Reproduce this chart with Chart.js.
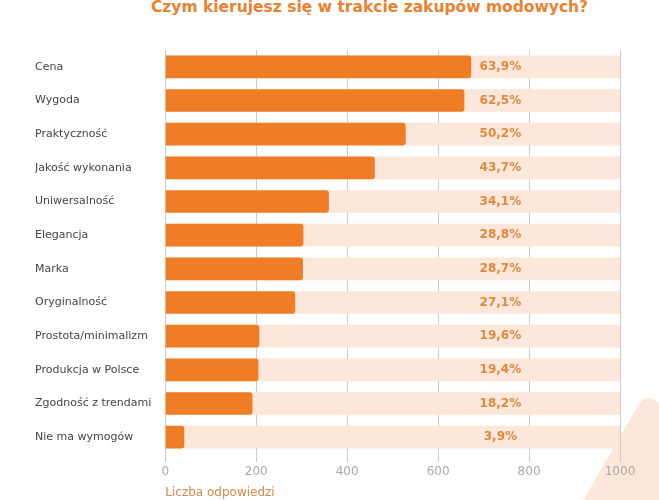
<!DOCTYPE html>
<html><head><meta charset="utf-8">
<script src="https://cdn.jsdelivr.net/npm/chart.js"></script>
<style>
html,body{margin:0;padding:0;background:#fff;overflow:hidden}
#wrap{position:relative;width:659px;height:500px}
#title{position:absolute;top:-2px;left:0;width:659px;text-align:center;font:bold 15.5px "DejaVu Sans";color:#e9822f;margin-left:40px}
#deco{position:absolute;left:600px;top:420px;width:140px;height:140px;background:#fde6da;transform:rotate(30deg);border-radius:10px}
canvas{position:absolute;left:0;top:0}
</style></head><body>
<div id="wrap">
<div id="deco"></div>
<div id="title">Czym kierujesz się w trakcie zakupów modowych?</div>
<canvas id="c" width="659" height="500"></canvas>
</div>
<script>
const categories=["Cena","Wygoda","Praktyczność","Jakość wykonania","Uniwersalność","Elegancja","Marka","Oryginalność","Prostota/minimalizm","Produkcja w Polsce","Zgodność z trendami","Nie ma wymogów"];
const percents=[63.9,62.5,50.2,43.7,34.1,28.8,28.7,27.1,19.6,19.4,18.2,3.9];
const counts=[672,657,528,460,359,303,302,285,206,204,191,41];
const maxScale=1000;
const pctPlugin={id:'pct',afterDatasetsDraw(ch){const c=ch.ctx;const x=ch.scales.x.getPixelForValue(737);c.save();c.font='bold 12px "DejaVu Sans"';c.fillStyle='#e0893f';c.textAlign='center';c.textBaseline='middle';
ch.getDatasetMeta(1).data.forEach((b,i)=>{c.fillText(percents[i].toFixed(1).replace('.',',')+'%',x,b.y);});c.restore();}};
new Chart(document.getElementById('c'),{type:'bar',
data:{labels:categories,datasets:[
{data:counts,backgroundColor:'#ee7d26',grouped:false,order:0,barThickness:22,borderRadius:3,borderSkipped:'start'},
{data:categories.map(()=>maxScale),backgroundColor:'#fde6da',grouped:false,order:1,barThickness:22}]},
options:{indexAxis:'y',responsive:false,animation:false,devicePixelRatio:1,
layout:{padding:{top:50,right:39,left:35,bottom:0}},
plugins:{legend:{display:false},tooltip:{enabled:false}},
scales:{x:{min:0,max:1000,afterFit(s){s.height=46;},ticks:{stepSize:200,color:'#aaa',callback:v=>String(v),font:{family:'DejaVu Sans',size:12}},grid:{color:'#ccc',drawTicks:true,tickLength:8},border:{display:false},
title:{display:true,text:'Liczba odpowiedzi',align:'start',color:'#d9894a',padding:{top:6,bottom:0},font:{family:'DejaVu Sans',size:12}}},
y:{ticks:{crossAlign:'far',color:'#444',font:{family:'DejaVu Sans',size:11}},grid:{display:false},border:{display:false}}}},
plugins:[pctPlugin]});
</script></body></html>
